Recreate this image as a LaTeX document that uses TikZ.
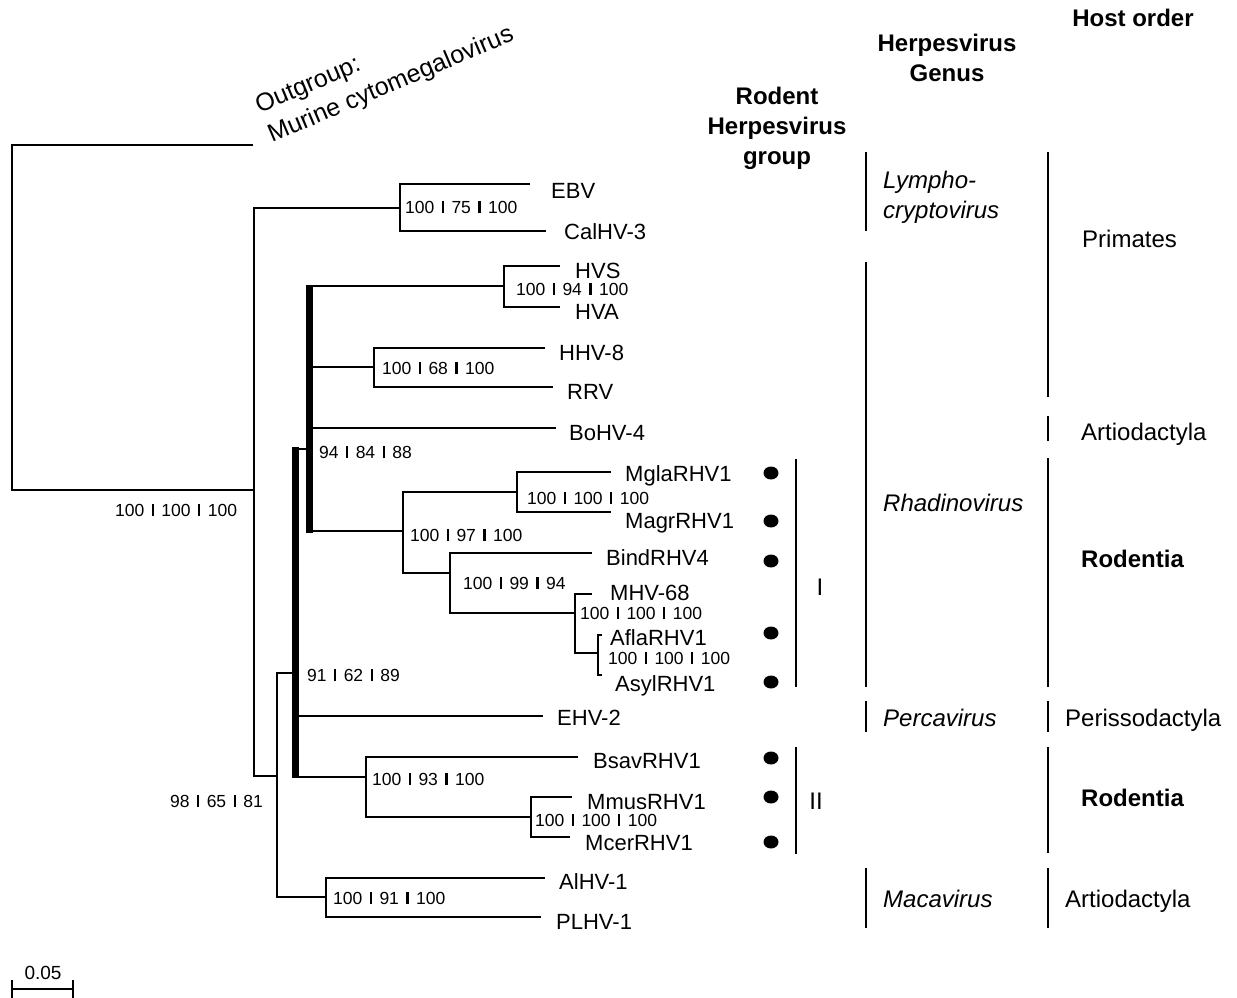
\documentclass[tikz,border=0pt]{standalone}
\usepackage{fontspec}
\setmainfont{Liberation Sans}
\usetikzlibrary{shapes.geometric}
\newcommand{\bsep}{\hspace{0.42em}\rule{2.4pt}{0.68em}\hspace{0.42em}}
\begin{document}
\begin{tikzpicture}[x=1pt,y=-1pt,
  br/.style={line width=2pt},
  sepline/.style={line width=1.6pt},
  taxon/.style={anchor=base west, inner sep=0, font=\fontsize{22}{26}\selectfont},
  boot/.style={anchor=base west, inner sep=0, font=\fontsize{17.5}{20}\selectfont},
  hdr/.style={anchor=north, align=center, inner sep=0, font=\fontsize{24}{30}\selectfont\bfseries},
  catlab/.style={anchor=base west, inner sep=0, font=\fontsize{24}{28}\selectfont},
  dotm/.style={ellipse, fill=black, minimum width=15pt, minimum height=13pt, inner sep=0}]
\useasboundingbox (0,0) rectangle (1237,998);

% ---------- internal nodes ----------
\coordinate (nR) at (12,490);
\coordinate (og) at (253,145);
\coordinate (nA) at (254,490);
\coordinate (nL) at (400,208);
\coordinate (tEBV) at (530,184);
\coordinate (tCal) at (546,231);
\coordinate (nB) at (277,776);
\coordinate (nCin) at (292,673);
\coordinate (nMac) at (326,897);
\coordinate (tAl) at (545,878);
\coordinate (tPL) at (541,917);
% bar C (x 292-299, y 448-778)
\fill (292,447) rectangle (299,778);
% bar D (x 306-313, y 286-532)
\fill (306,285) rectangle (313,533);
\coordinate (cD) at (299,449);
\coordinate (nDin) at (306,449);
\coordinate (cE) at (299,716);
\coordinate (tEHV) at (543,716);
\coordinate (cBs) at (299,777);
\coordinate (nBs) at (366,777);
\coordinate (tBsav) at (578,757);
\coordinate (nMm) at (531,817);
\coordinate (tMm) at (572,797);
\coordinate (tMc) at (570,837);
% children of D
\coordinate (dH) at (313,286);
\coordinate (nHVS) at (504,286);
\coordinate (tHVS) at (560,266);
\coordinate (tHVA) at (560,307);
\coordinate (dK) at (313,367);
\coordinate (nHH) at (374,367);
\coordinate (tHH) at (545,348);
\coordinate (tRRV) at (553,387);
\coordinate (dBo) at (313,428);
\coordinate (tBo) at (556,428);
\coordinate (dR) at (313,531);
\coordinate (nRod) at (403,531);
\coordinate (nMg) at (517,492);
\coordinate (tMg) at (611,472);
\coordinate (tMa) at (611,512);
\coordinate (nBi) at (450,573);
\coordinate (tBi) at (592,553);
\coordinate (nMH) at (575,613);
\coordinate (tMH) at (592,594);
\coordinate (nAf) at (598,653);
\coordinate (tAf) at (602,635);
\coordinate (tAs) at (602,675);

% ---------- branches ----------
\draw[br] (og) -| (nR) |- (nA);
\draw[br] (nL) -| (nA) |- (nB);
\draw[br] (tEBV) -| (nL) |- (tCal);
\draw[br] (nCin) -| (nB) |- (nMac);
\draw[br] (tAl) -| (nMac) |- (tPL);
\draw[br] (cD) -- (nDin);
\draw[br] (cE) -- (tEHV);
\draw[br] (cBs) -- (nBs);
\draw[br] (tBsav) -| (nBs) |- (nMm);
\draw[br] (tMm) -| (nMm) |- (tMc);
\draw[br] (dH) -- (nHVS);
\draw[br] (tHVS) -| (nHVS) |- (tHVA);
\draw[br] (dK) -- (nHH);
\draw[br] (tHH) -| (nHH) |- (tRRV);
\draw[br] (dBo) -- (tBo);
\draw[br] (dR) -- (nRod);
\draw[br] (nMg) -| (nRod) |- (nBi);
\draw[br] (tMg) -| (nMg) |- (tMa);
\draw[br] (tBi) -| (nBi) |- (nMH);
\draw[br] (tMH) -| (nMH) |- (nAf);
\draw[br] (tAf) -| (nAf) |- (tAs);

% ---------- taxon labels ----------
\node[rotate=23, anchor=south west, align=left, inner sep=0, font=\fontsize{25}{32}\selectfont] (ogl) at (274,148) {Outgroup:\\Murine cytomegalovirus};
\node[taxon] (lEBV) at (551,198) {EBV};
\node[taxon] (lCal) at (564,239) {CalHV-3};
\node[taxon] (lHVS) at (575,278) {HVS};
\node[taxon] (lHVA) at (575,319) {HVA};
\node[taxon] (lHH) at (559,360) {HHV-8};
\node[taxon] (lRRV) at (567,399) {RRV};
\node[taxon] (lBo) at (569,440) {BoHV-4};
\node[taxon] (lMg) at (625,481) {MglaRHV1};
\node[taxon] (lMa) at (625,528) {MagrRHV1};
\node[taxon] (lBi) at (606,565) {BindRHV4};
\node[taxon] (lMH) at (610,600) {MHV-68};
\node[taxon] (lAf) at (610,645) {AflaRHV1};
\node[taxon] (lAs) at (615,691) {AsylRHV1};
\node[taxon] (lEHV) at (557,725) {EHV-2};
\node[taxon] (lBs) at (593,768) {BsavRHV1};
\node[taxon] (lMm) at (587,809) {MmusRHV1};
\node[taxon] (lMc) at (585,850) {McerRHV1};
\node[taxon] (lAl) at (559,889) {AlHV-1};
\node[taxon] (lPL) at (556,929) {PLHV-1};

% ---------- bootstrap values ----------
\node[boot] (b0) at (115,516) {100\bsep 100\bsep 100};
\node[boot] (b1) at (405,213) {100\bsep 75\bsep 100};
\node[boot] (b2) at (516,295) {100\bsep 94\bsep 100};
\node[boot] (b3) at (382,374) {100\bsep 68\bsep 100};
\node[boot] (b4) at (319,458) {94\bsep 84\bsep 88};
\node[boot] (b5) at (527,504) {100\bsep 100\bsep 100};
\node[boot] (b6) at (410,541) {100\bsep 97\bsep 100};
\node[boot] (b7) at (463,589) {100\bsep 99\bsep 94};
\node[boot] (b8) at (580,619) {100\bsep 100\bsep 100};
\node[boot] (b9) at (608,664) {100\bsep 100\bsep 100};
\node[boot] (b10) at (307,681) {91\bsep 62\bsep 89};
\node[boot] (b11) at (372,785) {100\bsep 93\bsep 100};
\node[boot] (b12) at (535,826) {100\bsep 100\bsep 100};
\node[boot] (b13) at (170,807) {98\bsep 65\bsep 81};
\node[boot] (b14) at (333,904) {100\bsep 91\bsep 100};

% ---------- rodent markers ----------
\node[dotm] (m1) at (771,473) {};
\node[dotm] (m2) at (771,521) {};
\node[dotm] (m3) at (771,561) {};
\node[dotm] (m4) at (771,633) {};
\node[dotm] (m5) at (771,682) {};
\node[dotm] (m6) at (771,758) {};
\node[dotm] (m7) at (771,797) {};
\node[dotm] (m8) at (771,842) {};

% ---------- headers ----------
\node[hdr] (h1) at (777,87) {Rodent\\Herpesvirus\\group};
\node[hdr] (h2) at (947,34) {Herpesvirus\\Genus};
\node[hdr] (h3) at (1133,9) {Host order};

% ---------- group bars ----------
\coordinate (gIa) at (796,459); \coordinate (gIb) at (796,687);
\coordinate (gIIa) at (796,747); \coordinate (gIIb) at (796,854);
\draw[sepline] (gIa) -- (gIb);
\draw[sepline] (gIIa) -- (gIIb);
\node[anchor=base, inner sep=0, font=\fontsize{24}{28}\selectfont] (gI) at (820,595) {I};
\node[anchor=base, inner sep=0, font=\fontsize{24}{28}\selectfont] (gII) at (816,809) {II};

% ---------- genus bars ----------
\coordinate (e1a) at (866,152); \coordinate (e1b) at (866,231);
\coordinate (e2a) at (866,262); \coordinate (e2b) at (866,687);
\coordinate (e3a) at (866,701); \coordinate (e3b) at (866,732);
\coordinate (e4a) at (866,868); \coordinate (e4b) at (866,928);
\draw[sepline] (e1a) -- (e1b);
\draw[sepline] (e2a) -- (e2b);
\draw[sepline] (e3a) -- (e3b);
\draw[sepline] (e4a) -- (e4b);
\node[anchor=north west, align=left, inner sep=0, font=\fontsize{24}{30}\selectfont\itshape] (gL) at (883,171) {Lympho-\\cryptovirus};
\node[catlab, font=\fontsize{24}{28}\selectfont\itshape] (gR) at (883,511) {Rhadinovirus};
\node[catlab, font=\fontsize{24}{28}\selectfont\itshape] (gP) at (883,726) {Percavirus};
\node[catlab, font=\fontsize{24}{28}\selectfont\itshape] (gM) at (883,907) {Macavirus};

% ---------- host bars ----------
\coordinate (o1a) at (1048,152); \coordinate (o1b) at (1048,397);
\coordinate (o2a) at (1048,416); \coordinate (o2b) at (1048,441);
\coordinate (o3a) at (1048,458); \coordinate (o3b) at (1048,687);
\coordinate (o4a) at (1048,701); \coordinate (o4b) at (1048,732);
\coordinate (o5a) at (1048,747); \coordinate (o5b) at (1048,853);
\coordinate (o6a) at (1048,868); \coordinate (o6b) at (1048,928);
\foreach \p in {1,...,6} \draw[sepline] (o\p a) -- (o\p b);
\node[catlab] (hP) at (1082,247) {Primates};
\node[catlab] (hA1) at (1081,440) {Artiodactyla};
\node[catlab, font=\fontsize{24}{28}\selectfont\bfseries] (hR1) at (1081,567) {Rodentia};
\node[catlab] (hPe) at (1065,726) {Perissodactyla};
\node[catlab, font=\fontsize{24}{28}\selectfont\bfseries] (hR2) at (1081,806) {Rodentia};
\node[catlab] (hA2) at (1065,907) {Artiodactyla};

% ---------- scale bar ----------
\coordinate (s1) at (12,989); \coordinate (s2) at (73,989);
\draw[br] (s1) -- (s2);
\draw[br] (12,980) -- (12,998);
\draw[br] (73,980) -- (73,998);
\node[anchor=base, inner sep=0, font=\fontsize{19}{22}\selectfont] (sl) at (43,979) {0.05};
\end{tikzpicture}
\end{document}
